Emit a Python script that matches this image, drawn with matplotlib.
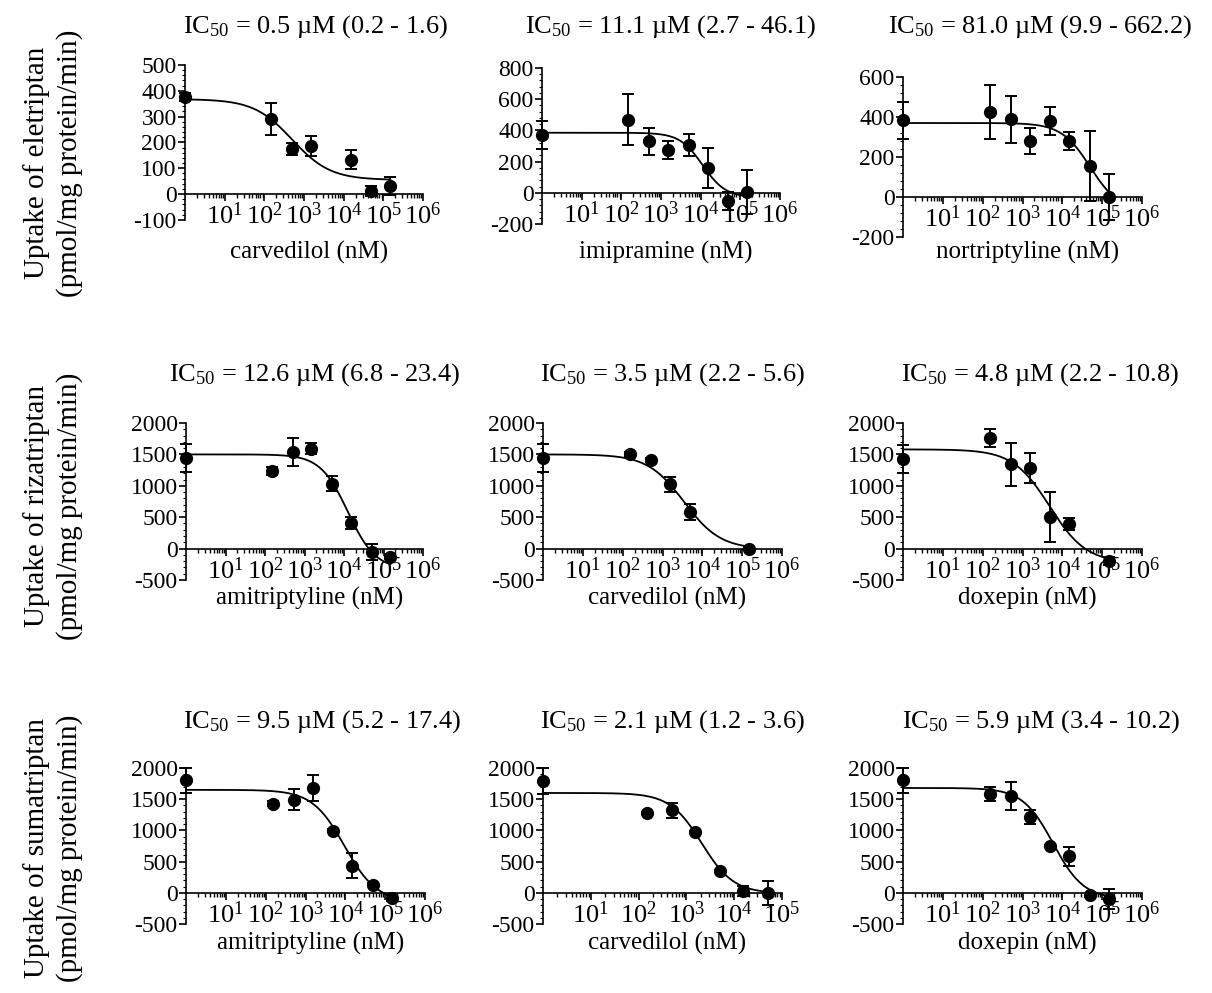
import numpy as np
import matplotlib
matplotlib.use("Agg")
import matplotlib.pyplot as plt
from matplotlib.ticker import FixedLocator, LogLocator, NullFormatter, MultipleLocator, AutoMinorLocator

plt.rcParams["font.family"] = ["Liberation Serif", "DejaVu Serif"]
plt.rcParams["mathtext.fontset"] = "custom"
plt.rcParams["mathtext.rm"] = "Liberation Serif"
plt.rcParams["mathtext.it"] = "Liberation Serif:italic"
plt.rcParams["mathtext.bf"] = "Liberation Serif:bold"
plt.rcParams["axes.unicode_minus"] = False

W, H = 1212, 993

# ---- data ----
substrates = ["eletriptan", "rizatriptan", "sumatriptan"]
inhibitors = ["carvedilol", "imipramine", "nortriptyline",
              "amitriptyline", "carvedilol", "doxepin",
              "amitriptyline", "carvedilol", "doxepin"]
ic50_text = ["0.5 µM (0.2 - 1.6)", "11.1 µM (2.7 - 46.1)", "81.0 µM (9.9 - 662.2)",
             "12.6 µM (6.8 - 23.4)", "3.5 µM (2.2 - 5.6)", "4.8 µM (2.2 - 10.8)",
             "9.5 µM (5.2 - 17.4)", "2.1 µM (1.2 - 3.6)", "5.9 µM (3.4 - 10.2)"]

conc7 = [150, 500, 1500, 5000, 15000, 50000, 150000]  # nM
conc = [
    [150, 500, 1500, 15000, 50000, 150000],
    conc7,
    conc7,
    conc7,
    [150, 500, 1500, 5000, 150000],
    [150, 500, 1500, 5000, 15000, 150000],
    conc7,
    [150, 500, 1500, 5000, 15000, 50000],
    conc7,
]
uptake = [
    [292, 175, 186, 134, 13, 32],
    [469, 330, 277, 305, 160, -53, 4],
    [423, 388, 282, 379, 282, 153, 0],
    [1236, 1538, 1592, 1034, 408, -53, -133],
    [1512, 1406, 1024, 584, 0],
    [1756, 1342, 1278, 504, 398, -196],
    [1429, 1493, 1680, 997, 437, 133, -80],
    [1280, 1323, 971, 347, 27, 0],
    [1584, 1547, 1216, 747, 587, -43, -96],
]
uptake_sd = [
    [62, 23, 38, 38, 20, 35],
    [165, 85, 58, 69, 128, 60, 140],
    [135, 117, 65, 70, 45, 175, 115],
    [60, 230, 90, 115, 90, 130, 40],
    [30, 30, 120, 130, 20],
    [145, 345, 240, 400, 95, 60],
    [45, 170, 210, 30, 200, 30, 50],
    [20, 120, 20, 20, 80, 190],
    [110, 225, 110, 20, 150, 20, 160],
]
control = [375, 373, 383, 1443, 1443, 1432, 1803, 1787, 1803]
control_sd = [15, 90, 92, 225, 225, 225, 200, 210, 200]

# fitted curve parameters: top, bottom, log10 midpoint (nM), hill slope
fit_top = [368, 385, 370, 1500, 1500, 1580, 1650, 1600, 1680]
fit_bottom = [55, -30, -70, -332, -10, -230, -150, -10, -100]
fit_logmid = [2.7, 4.05, 4.7, 4.1, 3.54, 3.68, 3.98, 3.32, 3.77]
fit_hill = [0.9, 1.5, 1.2, 1.24, 0.95, 0.94, 1.07, 1.3, 1.13]

ylims = [(-100, 500), (-200, 800), (-200, 600)] + [(-500, 2000)] * 6
ysteps = [100, 200, 200] + [500] * 6
xmax_exp = [6, 6, 6, 6, 6, 6, 6, 5, 6]

# ---- layout (pixels: left, right, top, bottom) ----
boxes = [(185, 423, 65, 220), (542, 780, 68, 224), (903, 1142, 77, 237),
         (186, 423, 423, 580), (543, 782, 423, 580), (903, 1142, 423, 580),
         (186, 425, 768, 924), (543, 782, 768, 924), (903, 1142, 768, 924)]
title_x = [315, 671, 1040, 315, 672, 1040, 322, 672, 1041]
title_y = [27, 27, 27, 375, 375, 375, 722, 722, 722]
xlabel_y = [252, 252, 252, 598, 598, 598, 943, 943, 943]
row_label_y = [163, 506, 848]

fig = plt.figure(figsize=(W / 100, H / 100), dpi=100)

for i in range(9):
    l, r, t, b = boxes[i]
    ax = fig.add_axes([l / W, 1 - b / H, (r - l) / W, (b - t) / H])
    ax.set_xscale("log")
    ax.set_xlim(1, 10 ** xmax_exp[i])
    ax.set_ylim(*ylims[i])

    xs = np.logspace(0, np.log10(max(conc[i])), 300)
    ys = fit_bottom[i] + (fit_top[i] - fit_bottom[i]) / (1 + 10 ** (fit_hill[i] * (np.log10(xs) - fit_logmid[i])))
    ax.plot(xs, ys, color="black", lw=1.3, clip_on=False, zorder=3)

    px = [1] + list(conc[i])
    py = [control[i]] + list(uptake[i])
    pe = [control_sd[i]] + list(uptake_sd[i])
    ax.errorbar(px, py, yerr=pe, fmt="o", color="black", ms=8.5, elinewidth=1.4,
                capsize=4, capthick=1.4, clip_on=False, zorder=4)

    for side in ["top", "right"]:
        ax.spines[side].set_visible(False)
    ax.spines["bottom"].set_position(("data", 0))
    ax.spines["left"].set_linewidth(1.2)
    ax.spines["bottom"].set_linewidth(1.2)

    decades = [10.0 ** k for k in range(1, xmax_exp[i] + 1)]
    ax.xaxis.set_major_locator(FixedLocator(decades))
    ax.set_xticklabels([r"$10^{%d}$" % k for k in range(1, xmax_exp[i] + 1)])
    ax.xaxis.set_minor_locator(LogLocator(base=10, subs=np.arange(2, 10), numticks=20))
    ax.xaxis.set_minor_formatter(NullFormatter())
    ax.yaxis.set_major_locator(MultipleLocator(ysteps[i]))
    ax.yaxis.set_minor_locator(AutoMinorLocator(5))

    ax.tick_params(axis="x", which="major", direction="out", length=5, width=1.2,
                   labelsize=19, pad=1)
    ax.tick_params(axis="x", which="minor", direction="out", length=3, width=1.0)
    ax.tick_params(axis="y", which="major", direction="out", length=5, width=1.2,
                   labelsize=17, pad=1)
    ax.tick_params(axis="y", which="minor", direction="out", length=2, width=0.8)

    ax.patch.set_visible(False)

    fig.text(title_x[i] / W, 1 - title_y[i] / H,
             r"IC$_{50}$ = " + ic50_text[i], ha="center", va="center", fontsize=19)
    fig.text(((l + r) / 2 + 5) / W, 1 - xlabel_y[i] / H, inhibitors[i] + " (nM)",
             ha="center", va="center", fontsize=18)

for row in range(3):
    fig.text(53 / W, 1 - row_label_y[row] / H,
             "Uptake of " + substrates[row] + "\n(pmol/mg protein/min)",
             rotation=90, ha="center", va="center", fontsize=21, linespacing=1.3,
             multialignment="center")

fig.savefig("out.png", dpi=100)
